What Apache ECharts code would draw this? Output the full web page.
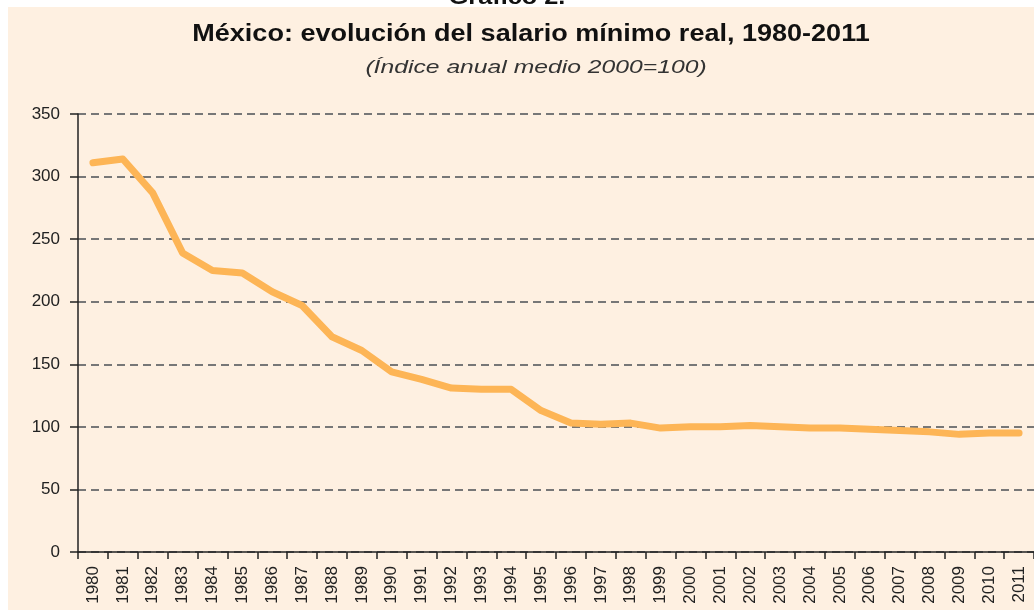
<!DOCTYPE html>
<html>
<head>
<meta charset="utf-8">
<script src="https://cdn.jsdelivr.net/npm/echarts@6/dist/echarts.min.js"></script>
<style>
html,body{margin:0;padding:0;background:#fff;}
#chart{width:1034px;height:610px;}
</style>
</head>
<body>
<div id="chart"></div>
<script>
const years = ['1980','1981','1982','1983','1984','1985','1986','1987','1988','1989','1990','1991','1992','1993','1994','1995','1996','1997','1998','1999','2000','2001','2002','2003','2004','2005','2006','2007','2008','2009','2010','2011'];
const salarioReal = [311,314,287,239,225,223,208,197,172,161,144,138,131,130,130,113,103,102,103,99,100,100,101,100,99,99,98,97,96,94,95,95];
const yTicks = {min:0, max:350, interval:50};
const titleText = 'México: evolución del salario mínimo real, 1980-2011';
const subtitleText = '(Índice anual medio 2000=100)';
const headerText = 'Gráfico 2.';

const FONT = '"Liberation Sans", Arial, sans-serif';
const chart = echarts.init(document.getElementById('chart'), null, {renderer:'canvas'});
chart.setOption({
  backgroundColor:'#ffffff',
  animation:false,
  graphic:[
    {type:'text', z:-20, x:507, y:9, scaleX:1.15, style:{text:headerText, align:'center', verticalAlign:'bottom', font:'bold 22px ' + FONT, fill:'#111'}},
    {type:'rect', z:-10, shape:{x:8,y:7,width:1030,height:610}, style:{fill:'#FEF0E1'}},
    {type:'text', z:5, x:531, y:23, scaleX:1.175, style:{text:titleText, align:'center', verticalAlign:'top', font:'bold 23px ' + FONT, fill:'#111'}},
    {type:'text', z:5, x:536, y:58, scaleX:1.3, style:{text:subtitleText, align:'center', verticalAlign:'top', font:'italic 19px ' + FONT, fill:'#333'}}
  ],
  grid:{left:78, top:114, width:957, bottom:58, containLabel:false},
  xAxis:{
    type:'category', data:years, boundaryGap:true,
    axisLine:{lineStyle:{color:'#222', width:1.5}},
    axisTick:{show:true, alignWithLabel:false, length:7, lineStyle:{color:'#222', width:1.5}},
    axisLabel:{rotate:90, interval:0, margin:14, fontSize:17, color:'#222', fontFamily:FONT},
    splitLine:{show:false}
  },
  yAxis:{
    type:'value', min:yTicks.min, max:yTicks.max, interval:yTicks.interval,
    axisLine:{show:true, lineStyle:{color:'#222', width:1.5}},
    axisTick:{show:true, length:8, lineStyle:{color:'#222', width:1.5}},
    axisLabel:{margin:18, fontSize:17, color:'#222', fontFamily:FONT},
    splitLine:{show:true, lineStyle:{color:'#777', width:2, type:[8,5]}}
  },
  series:[{
    type:'line', data:salarioReal, showSymbol:false, symbol:'none',
    lineStyle:{color:'#FDB556', width:7, cap:'round', join:'round'},
    z:5
  }]
});
</script>
</body>
</html>
